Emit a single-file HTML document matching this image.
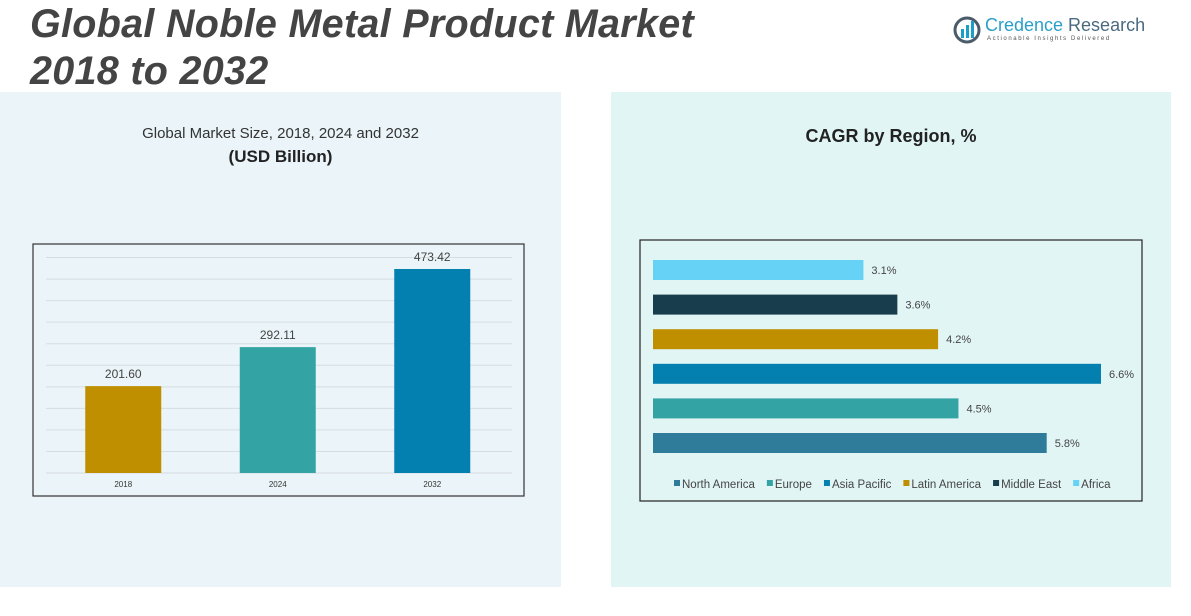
<!DOCTYPE html>
<html><head><meta charset="utf-8">
<style>
body{margin:0;width:1191px;height:616px;background:#fff;font-family:"Liberation Sans",sans-serif;position:relative;overflow:hidden}
.abs{position:absolute}
</style></head>
<body>
<div class="abs" style="left:0;top:92px;width:561px;height:495px;background:#eaf4f9"></div>
<div class="abs" style="left:611px;top:92px;width:560px;height:495px;background:#e2f5f5"></div>
<div class="abs" style="left:30px;top:1px;font-size:39.5px;font-weight:bold;font-style:italic;color:#444;line-height:47px;letter-spacing:0.3px">Global Noble Metal Product Market<br>2018 to 2032</div>
<div class="abs" style="left:953px;top:14px;width:190px;height:32px">
 <svg width="30" height="30" class="abs" style="left:0;top:1px"><circle cx="14" cy="15" r="12" fill="none" stroke="#4a5b6a" stroke-width="3"/><rect x="8" y="14" width="3" height="9" fill="#1aa0c8"/><rect x="13" y="10" width="3" height="13" fill="#1aa0c8"/><rect x="18" y="6" width="3" height="17" fill="#1aa0c8"/></svg>
 <div class="abs" style="left:32px;top:1px;font-size:18px;color:#4a6a80;white-space:nowrap"><span style="color:#2a9fc8">Credence</span> Research</div>
 <div class="abs" style="left:34px;top:22px;font-size:6px;letter-spacing:1.6px;color:#555;white-space:nowrap">Actionable Insights Delivered</div>
</div>
<div class="abs" style="left:0;width:561px;top:125px;text-align:center;font-size:15px;color:#333">Global Market Size, 2018, 2024 and 2032</div>
<div class="abs" style="left:0;width:561px;top:147px;text-align:center;font-size:17px;font-weight:bold;color:#222">(USD Billion)</div>
<div class="abs" style="left:611px;width:560px;top:126px;text-align:center;font-size:18px;font-weight:bold;color:#222">CAGR by Region, %</div>
<svg id="bar" class="abs" style="left:0;top:0" width="1191" height="616"></svg>
<script>
const years=["2018","2024","2032"];
const sizes=[201.60,292.11,473.42];
const sizeLabels=["201.60","292.11","473.42"];
const regions=["North America","Europe","Asia Pacific","Latin America","Middle East","Africa"];
const cagr=[5.8,4.5,6.6,4.2,3.6,3.1];
const cagrLabels=["5.8%","4.5%","6.6%","4.2%","3.6%","3.1%"];
const yearColors=["#c08f00","#33a3a3","#0380b0"];
const regionColors=["#2e7b9a","#34a3a3","#0380b0","#c08f00","#183d4c","#66d2f5"];
const svg=document.getElementById('bar');const NS="http://www.w3.org/2000/svg";
function mk(t,a,txt){const e=document.createElementNS(NS,t);for(const k in a)e.setAttribute(k,a[k]);if(txt!==undefined)e.textContent=txt;svg.appendChild(e);return e;}
let box=mk('rect',{x:33,y:244,width:491,height:252,fill:'none',stroke:'#333','stroke-width':1.2});

const base=473,ppu=204/473.42;const y=v=>base-v*ppu;
for(let g=0;g<=500;g+=50){const l=mk('line',{x1:46,x2:512,y1:y(g),y2:y(g),stroke:'#d6dde2','stroke-width':1});
}
const band=154.5,x0=46;
years.forEach((yr,i)=>{const cx=x0+band*(i+0.5);
const r=mk('rect',{x:cx-38,y:y(sizes[i]),width:76,height:sizes[i]*ppu,fill:yearColors[i]});

const t=mk('text',{x:cx,y:y(sizes[i])-8,'text-anchor':'middle','font-size':12,fill:'#444'},sizeLabels[i]);

const xl=mk('text',{x:cx,y:487,'text-anchor':'middle','font-size':8,fill:'#333'},yr);
});
let box2=mk('rect',{x:640,y:240,width:502,height:261,fill:'none',stroke:'#222','stroke-width':1.2});

const hx0=653,ppp=448/6.6;
regions.forEach((rg,i)=>{const cy=443-i*34.6;
const r=mk('rect',{x:hx0,y:cy-10,width:cagr[i]*ppp,height:20,fill:regionColors[i]});

const t=mk('text',{x:hx0+cagr[i]*ppp+8,y:cy+4,'font-size':11,fill:'#444'},cagrLabels[i]);
});
let lx=674;
regions.forEach((rg,i)=>{const s=mk('rect',{x:lx,y:480,width:6,height:6,fill:regionColors[i]});

const t=mk('text',{x:lx+8,y:488,'font-size':11.5,fill:'#444'},rg);

lx+=8+t.getComputedTextLength()+12;});
</script>
</body></html>
